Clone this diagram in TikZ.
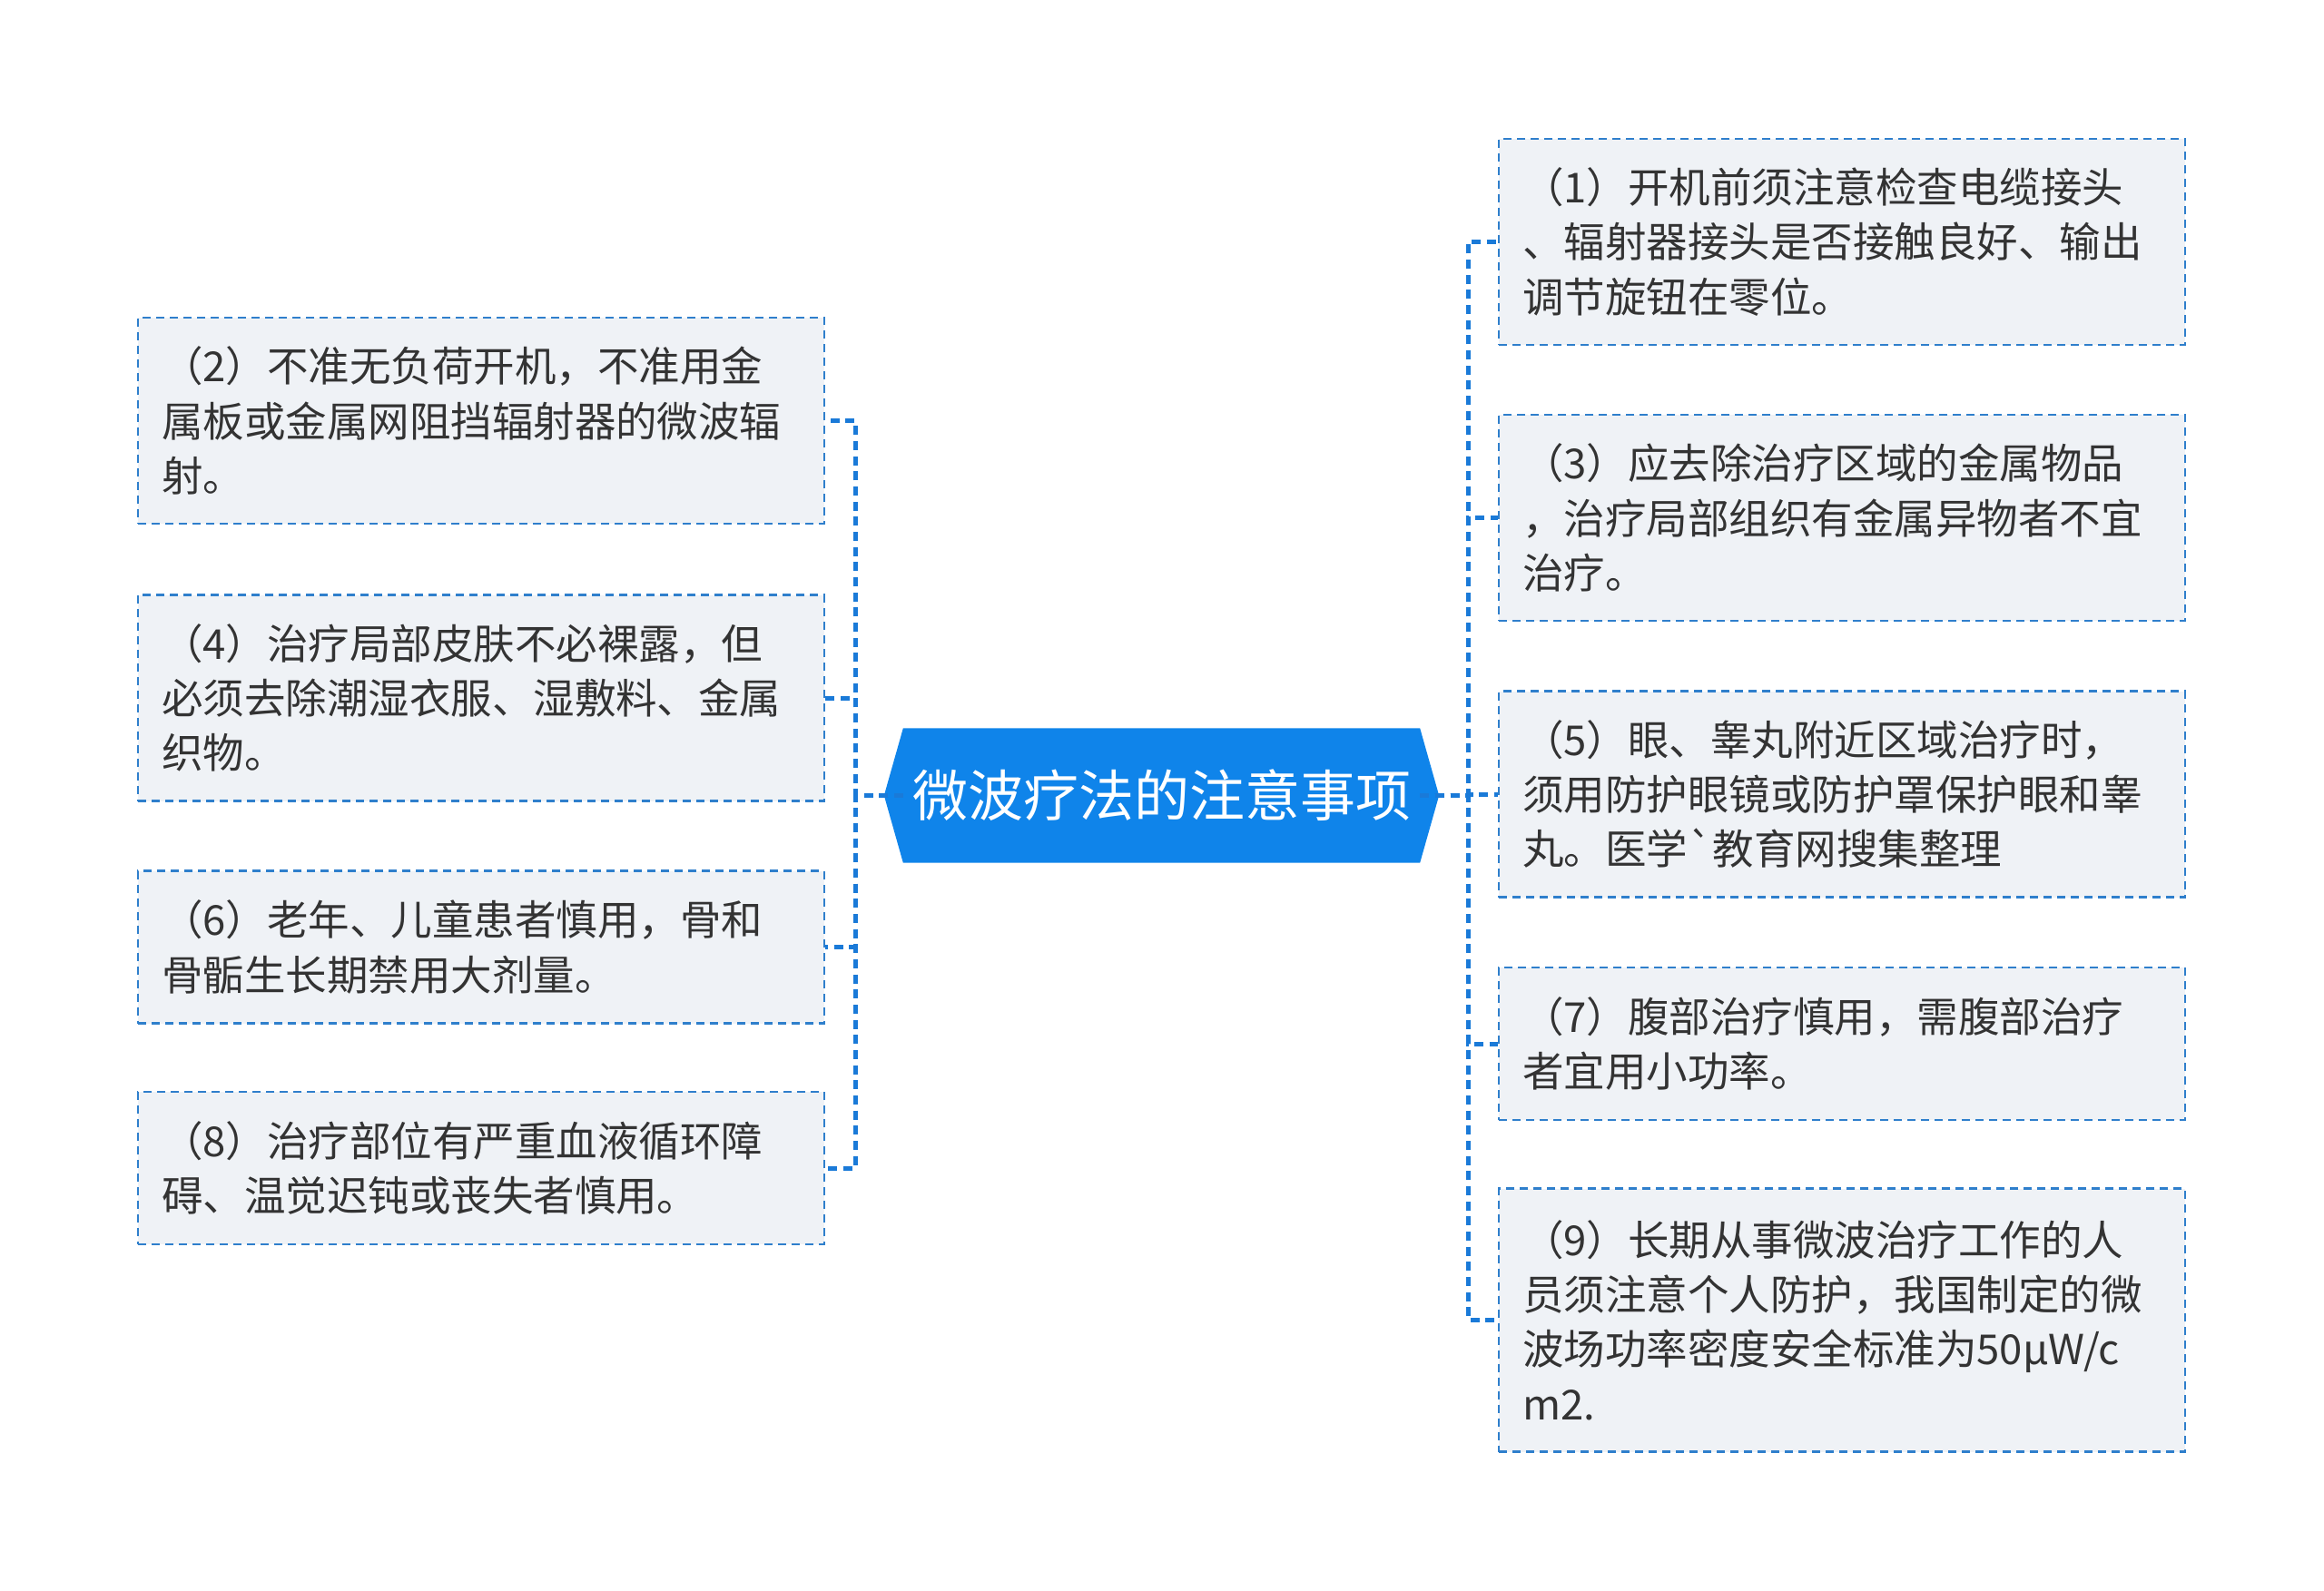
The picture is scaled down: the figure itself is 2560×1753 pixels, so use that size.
\documentclass[tikz,border=0pt]{standalone}
\usepackage{fontspec}
\setmainfont{Noto Sans CJK SC}[Ligatures=TeXOff]
\usetikzlibrary{backgrounds}
\definecolor{rootblue}{HTML}{0F84EA}
\definecolor{linkblue}{HTML}{1A7AD8}
\definecolor{leafline}{HTML}{2F7FCC}
\definecolor{leaffill}{HTML}{EFF2F6}
\definecolor{leaftext}{HTML}{333333}

\begin{document}
\begin{tikzpicture}[x=0.3pt,y=-0.3pt,
    root/.style={minimum width=170.4pt,minimum height=44.1pt,inner sep=0pt,text=white,font=\fontsize{18.3pt}{22pt}\selectfont},
    leaf/.style={draw=leafline,fill=leaffill,line width=0.75pt,dash pattern=on 2.7pt off 1.8pt,minimum width=226.8pt,text width=211.2pt,inner xsep=7.4pt,inner ysep=0pt,align=left,text=leaftext,font=\fontsize{13.65pt}{18.1pt}\selectfont},
    three/.style={leaf,minimum height=68.1pt},
    two/.style={leaf,minimum height=50.4pt},
    four/.style={leaf,minimum height=87pt},
    link/.style={draw=linkblue,line width=1.5pt,dash pattern=on 3pt off 2pt}]
    \useasboundingbox (0,0) rectangle (2560,1753);

    \node[root] (root) at (1279.5,876.5) {微波疗法的注意事项};
    \begin{scope}[on background layer]
        \fill[rootblue] (root.north west) -- (root.north east) -- ([xshift=6.3pt]root.east)
            -- (root.south east) -- (root.south west) -- ([xshift=-6.3pt]root.west) -- cycle;
    \end{scope}

    % right side
    \node[three] (n1) at (2029,266.5) {（1）开机前须注意检查电缆接头\\、辐射器接头是否接触良好、输出\\调节旋钮在零位。};
    \node[three] (n3) at (2029,570.5) {（3）应去除治疗区域的金属物品\\，治疗局部组织有金属异物者不宜\\治疗。};
    \node[three] (n5) at (2029,875) {（5）眼、睾丸附近区域治疗时，\\须用防护眼镜或防护罩保护眼和睾\\丸。医学`教育网搜集整理};
    \node[two] (n7) at (2029,1150) {（7）腹部治疗慎用，需腹部治疗\\者宜用小功率。};
    \node[four] (n9) at (2029,1454.5) {（9）长期从事微波治疗工作的人\\员须注意个人防护，我国制定的微\\波场功率密度安全标准为50μW/c\\m2.};

    % left side
    \node[three] (n2) at (530,463.5) {（2）不准无负荷开机，不准用金\\属板或金属网阻挡辐射器的微波辐\\射。};
    \node[three] (n4) at (530,769) {（4）治疗局部皮肤不必裸露，但\\必须去除潮湿衣服、湿敷料、金属\\织物。};
    \node[two] (n6) at (530,1043.5) {（6）老年、儿童患者慎用，骨和\\骨骺生长期禁用大剂量。};
    \node[two] (n8) at (530,1287) {（8）治疗部位有严重血液循环障\\碍、温觉迟钝或丧失者慎用。};

    \coordinate (spineR) at (1617,876.5);
    \coordinate (spineL) at (942,876.5);

    \foreach \n in {n1,n3,n5,n7,n9}
        \draw[link] (root.east) -- (spineR) |- (\n.west);
    \foreach \n in {n2,n4,n6,n8}
        \draw[link] (root.west) -- (spineL) |- (\n.east);
\end{tikzpicture}
\end{document}
